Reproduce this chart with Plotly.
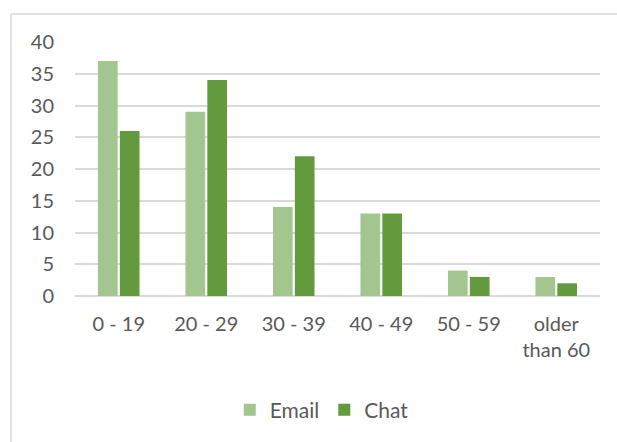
import plotly.graph_objects as go

categories = ["0 - 19", "20 - 29", "30 - 39", "40 - 49", "50 - 59", "older<br>than 60"]
email = [37, 29, 14, 13, 4, 3]
chat = [26, 34, 22, 13, 3, 2]
y_ticks = [0, 5, 10, 15, 20, 25, 30, 35, 40]

W, H = 617, 442
L, R, T, B = 75, 17, 42, 146
pw, ph = W - L - R, H - T - B

def px_x(p):
    return (p - L) / pw

def px_y(p):
    return (H - B - p) / ph

fig = go.Figure()
fig.add_trace(go.Bar(name="Email", x=categories, y=email, marker_color="#A3C58F",
                     marker_line_width=0))
fig.add_trace(go.Bar(name="Chat", x=categories, y=chat, marker_color="#629A3D",
                     marker_line_width=0))

fig.add_shape(type="line", xref="paper", yref="paper",
              x0=px_x(11), x1=px_x(11), y0=px_y(14), y1=px_y(450),
              line=dict(color="#D9D9D9", width=1.5))
fig.add_shape(type="line", xref="paper", yref="paper",
              x0=px_x(11), x1=px_x(630), y0=px_y(14), y1=px_y(14),
              line=dict(color="#D9D9D9", width=1.5))

FS = 20
fig.update_layout(
    width=W, height=H,
    margin=dict(l=L, r=R, t=T, b=B),
    paper_bgcolor="white", plot_bgcolor="white",
    barmode="group", bargap=0.5, bargroupgap=0.1,
    font=dict(family="Lato, 'Open Sans', sans-serif", size=FS, color="#595959"),
    showlegend=True,
    legend=dict(orientation="h", x=0.47, xanchor="center", y=px_y(410), yanchor="middle",
                font=dict(size=21, color="#595959"), itemwidth=30, traceorder="normal"),
    xaxis=dict(showgrid=False, showline=False, ticks="", tickfont=dict(size=FS),
               ticklabelstandoff=14),
    yaxis=dict(range=[0, 40], tickvals=y_ticks, showgrid=True, gridcolor="#D9D9D9",
               gridwidth=1.5, zeroline=True, zerolinecolor="#D9D9D9", zerolinewidth=1.5,
               showline=False, ticks="", ticklabelstandoff=20, tickfont=dict(size=FS)),
)

fig.write_html("out.html")
